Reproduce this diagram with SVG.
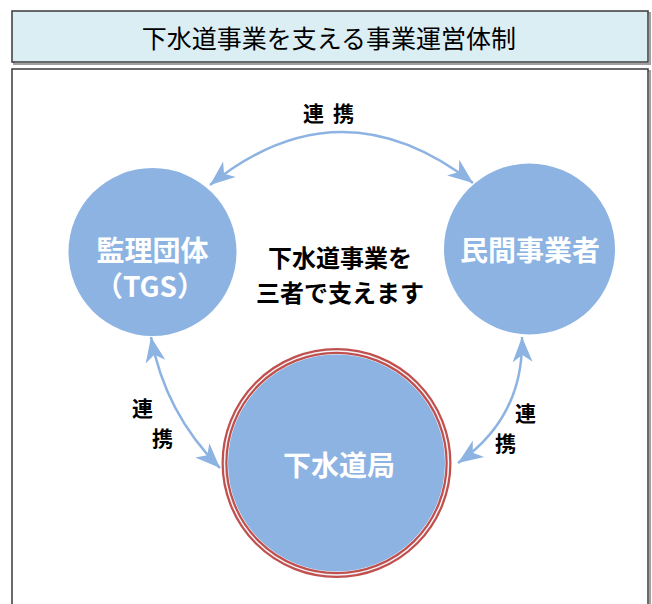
<svg xmlns="http://www.w3.org/2000/svg" width="652" height="604" viewBox="0 0 652 604">
<style>
.frame{stroke:#3a3a3a;stroke-width:1.5}
.shadow{fill:none;stroke:#a0a0a0;stroke-width:2}
.node{fill:#8DB3E2}
.ntext{font-family:"Noto Sans CJK JP","Noto Sans",sans-serif;font-weight:700;font-size:28px;fill:#ffffff;text-anchor:middle}
.btext{font-family:"Noto Sans CJK JP","Noto Sans",sans-serif;font-weight:700;fill:#000000}
.conn{fill:none;stroke:#8DB3E2;stroke-width:2.5}
</style>
<defs>
<marker id="ah" markerUnits="userSpaceOnUse" markerWidth="30" markerHeight="24" viewBox="-26 -12 30 24" refX="0" refY="0" orient="auto-start-reverse" overflow="visible">
<path d="M0,0 L-25,-10 L-18,0 L-25,10 Z" fill="#8DB3E2"/>
</marker>
</defs>
<rect width="652" height="604" fill="#ffffff"/>
<g id="title">
<rect x="14" y="13" width="636" height="51" class="shadow"/>
<rect x="12" y="11" width="636" height="51" fill="#DBEEF4" class="frame"/>
<text x="329" y="48" font-family="Noto Sans CJK JP,sans-serif" font-size="25" text-anchor="middle" fill="#000">下水道事業を支える事業運営体制</text>
</g>
<g id="panel">
<rect x="14" y="71" width="636" height="560" class="shadow"/>
<rect x="12" y="69" width="636" height="560" fill="#ffffff" class="frame"/>
</g>
<g id="connectors">
<path class="conn" d="M210,185 Q340,80 473,183" marker-start="url(#ah)" marker-end="url(#ah)"/>
<path class="conn" d="M151,337 Q165,413 220,468" marker-start="url(#ah)" marker-end="url(#ah)"/>
<path class="conn" d="M522,337 Q524,417 458,463" marker-start="url(#ah)" marker-end="url(#ah)"/>
<text class="btext" font-size="21" y="121"><tspan x="303">連</tspan><tspan x="333">携</tspan></text>
<text class="btext" font-size="21" x="132" y="416">連</text>
<text class="btext" font-size="21" x="152" y="446">携</text>
<text class="btext" font-size="21" x="515" y="421">連</text>
<text class="btext" font-size="21" x="495" y="451">携</text>
</g>
<g id="node-tgs">
<circle class="node" cx="152.5" cy="252" r="84"/>
<text class="ntext" x="152.5" y="261">監理団体</text>
<text class="ntext" x="150" y="297" font-size="26">（TGS）</text>
</g>
<g id="node-private">
<circle class="node" cx="529.5" cy="249" r="85.5"/>
<text class="ntext" x="530" y="261">民間事業者</text>
</g>
<g id="node-bureau">
<circle cx="336.5" cy="463" r="112" fill="none" stroke="#C0504D" stroke-width="6"/>
<circle cx="336.5" cy="463" r="112" fill="none" stroke="#f4f4f8" stroke-width="1.5"/>
<circle class="node" cx="336.5" cy="463" r="108.5"/>
<text class="ntext" x="339" y="476">下水道局</text>
</g>
<g id="center-label">
<text class="btext" font-size="24" x="340" y="267" text-anchor="middle">下水道事業を</text>
<text class="btext" font-size="24" x="340" y="302" text-anchor="middle">三者で支えます</text>
</g>
</svg>
